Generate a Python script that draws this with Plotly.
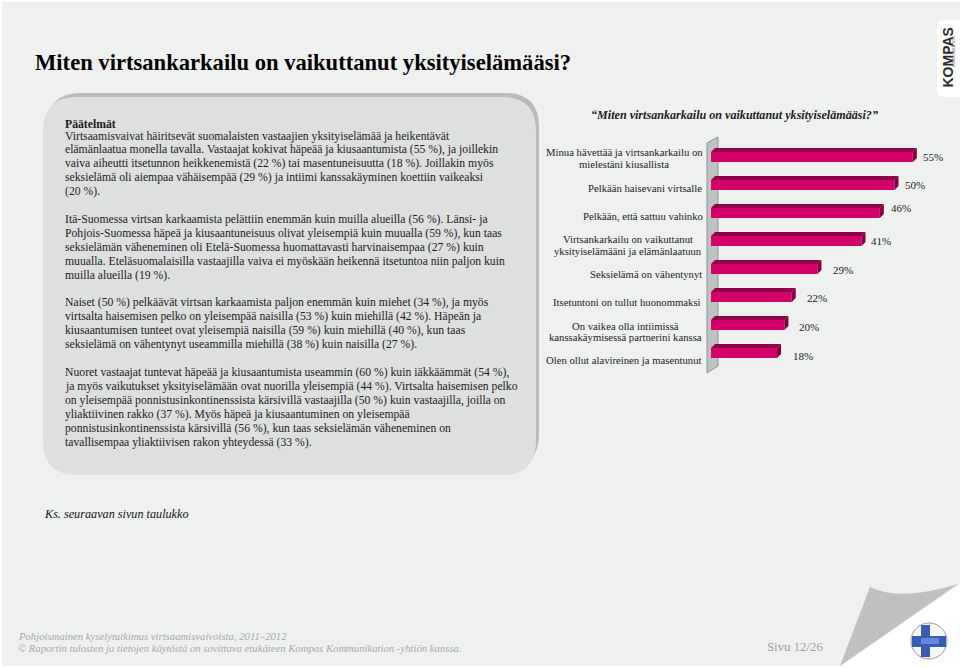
import plotly.graph_objects as go

W, H = 960, 668
SERIF = "Liberation Serif"

# ---- data ----
categories = [
    "Minua hävettää ja virtsankarkailu on<br>mielestäni kiusallista",
    "Pelkään haisevani virtsalle",
    "Pelkään, että sattuu vahinko",
    "Virtsankarkailu on vaikuttanut<br>yksityiselämääni ja elämänlaatuun",
    "Seksielämä on vähentynyt",
    "Itsetuntoni on tullut huonommaksi",
    "On vaikea olla intiimissä<br>kanssakäymisessä partnerini kanssa",
    "Olen ollut alavireinen ja masentunut",
]
values = [55, 50, 46, 41, 29, 22, 20, 18]

page_title = "Miten virtsankarkailu on vaikuttanut yksityiselämääsi?"
chart_title = "“Miten virtsankarkailu on vaikuttanut yksityiselämääsi?”"
heading = "Päätelmät"
para1 = [
    "Virtsaamisvaivat häiritsevät suomalaisten vastaajien yksityiselämää ja heikentävät",
    "elämänlaatua monella tavalla. Vastaajat kokivat häpeää ja kiusaantumista (55 %), ja joillekin",
    "vaiva aiheutti itsetunnon heikkenemistä (22 %) tai masentuneisuutta (18 %). Joillakin myös",
    "seksielämä oli aiempaa vähäisempää (29 %) ja intiimi kanssakäyminen koettiin vaikeaksi",
    "(20 %).",
]
para2 = [
    "Itä-Suomessa virtsan karkaamista pelättiin enemmän kuin muilla alueilla (56 %). Länsi- ja",
    "Pohjois-Suomessa häpeä ja kiusaantuneisuus olivat yleisempiä kuin muualla (59 %), kun taas",
    "seksielämän väheneminen oli Etelä-Suomessa huomattavasti harvinaisempaa (27 %) kuin",
    "muualla. Eteläsuomalaisilla vastaajilla vaiva ei myöskään heikennä itsetuntoa niin paljon kuin",
    "muilla alueilla (19 %).",
]
para3 = [
    "Naiset (50 %) pelkäävät virtsan karkaamista paljon enemmän kuin miehet (34 %), ja myös",
    "virtsalta haisemisen pelko on yleisempää naisilla (53 %) kuin miehillä (42 %). Häpeän ja",
    "kiusaantumisen tunteet ovat yleisempiä naisilla (59 %) kuin miehillä (40 %), kun taas",
    "seksielämä on vähentynyt useammilla miehillä (38 %) kuin naisilla (27 %).",
]
para4 = [
    "Nuoret vastaajat tuntevat häpeää ja kiusaantumista useammin (60 %) kuin iäkkäämmät (54 %),",
    "ja myös vaikutukset yksityiselämään ovat nuorilla yleisempiä (44 %). Virtsalta haisemisen pelko",
    "on yleisempää ponnistusinkontinenssista kärsivillä vastaajilla (50 %) kuin vastaajilla, joilla on",
    "yliaktiivinen rakko (37 %). Myös häpeä ja kiusaantuminen on yleisempää",
    "ponnistusinkontinenssista kärsivillä (56 %), kun taas seksielämän väheneminen on",
    "tavallisempaa yliaktiivisen rakon yhteydessä (33 %).",
]
note = "Ks. seuraavan sivun taulukko"
footer1 = "Pohjoismainen kyselytutkimus virtsaamisvaivoista, 2011–2012"
footer2 = "© Raportin tulosten ja tietojen käytöstä on sovittava etukäteen Kompas Kommunikation -yhtiön kanssa."
page_no = "Sivu 12/26"

# ---- layout constants (pixels on the page) ----
PLOT_L, PX_PER_PCT, X_MAX = 711, 3.67, 60
PLOT_T, STEP = 143, 28
DEPTH = 4
BAR_PX = 10
label_y_px = [158, 188, 216, 245, 274, 302, 331.5, 360]
label_centre = [624, 645, 642.5, 628, 646, 626.5, 625.5, 624]
value_dx = [16, 16, 17, 16, 22, 21, 21, 22]
value_dy = [0, 0, -5, 0, 1, 1, 2, 3]

PINK, DARK, BG = "#d4006a", "#93004a", "#eff1f1"


def px(x):
    return x / W


def py(y):
    return 1 - y / H


def poly(points):
    return "M" + " L".join(f"{px(x):.5f},{py(y):.5f}" for x, y in points) + " Z"


def rrect(x0, y0, x1, y1, r):
    p = lambda x, y: f"{px(x):.5f},{py(y):.5f}"
    return (f"M{p(x0 + r, y0)} L{p(x1 - r, y0)} Q{p(x1, y0)} {p(x1, y0 + r)} "
            f"L{p(x1, y1 - r)} Q{p(x1, y1)} {p(x1 - r, y1)} L{p(x0 + r, y1)} "
            f"Q{p(x0, y1)} {p(x0, y1 - r)} L{p(x0, y0 + r)} Q{p(x0, y0)} {p(x0 + r, y0)} Z")


fig = go.Figure()

# bars drawn through the axes
idx = list(range(len(values)))
w = BAR_PX / STEP
dx = DEPTH / PX_PER_PCT
dy = DEPTH / STEP
fig.add_trace(go.Bar(y=idx, x=values, orientation="h", width=w,
                     marker=dict(color=PINK, line=dict(width=0)), hoverinfo="skip"))

tx, ty, sx, sy = [], [], [], []
for i, v in zip(idx, values):
    t = i - w / 2
    b = i + w / 2
    tx += [0, dx, v + dx, v, 0, None]
    ty += [t, t - dy, t - dy, t, t, None]
    sx += [v, v + dx, v + dx, v, v, None]
    sy += [t, t - dy, b - dy, b, t, None]
for xs, ys, col in ((tx, ty, DARK), (sx, sy, "#7d003f")):
    fig.add_trace(go.Scatter(x=xs, y=ys, mode="lines", fill="toself", fillcolor=col,
                             line=dict(width=0, color=col), hoverinfo="skip"))

shapes = []


def add_path(path, fill, line=None, lw=0):
    shapes.append(dict(type="path", xref="paper", yref="paper", path=path, fillcolor=fill,
                       line=dict(color=line or fill, width=lw), layer="below"))


# page sheet and curl
add_path(poly([(2, 2), (960, 2), (960, 584), (840, 666), (2, 666)]), BG)
shapes.append(dict(type="path", xref="paper", yref="paper", fillcolor="#bfc1c1", line=dict(width=0),
                   layer="below",
                   path=f"M{px(870)},{py(587)} Q{px(900)},{py(602)} {px(958)},{py(584)} "
                        f"L{px(840)},{py(666)} Z"))

# text panel with its shadow
add_path(rrect(47, 93, 539, 468, 34), "#b9bbbb")
add_path(rrect(43, 97, 536, 475, 34), "#dedfdf")

# axis wall of the chart
add_path(poly([(707, 143), (718, 137), (718, 366), (707, 373)]), "#bfc2c2", "#8f9292", 1)

# logo plate
add_path(rrect(937, 20, 975, 97, 7), "#ffffff")

# flag
fx, fy, fr = 929, 641, 18
shapes.append(dict(type="circle", xref="paper", yref="paper", layer="below",
                   x0=px(fx - fr), x1=px(fx + fr), y0=py(fy + fr), y1=py(fy - fr),
                   fillcolor="#f4f6f8", line=dict(color="#9a9a9a", width=1)))
add_path(poly([(fx - 17, fy - 5), (fx + 17, fy - 5), (fx + 17, fy + 6), (fx - 17, fy + 6)]), "#3b5cb4")
add_path(poly([(fx - 8, fy - 16), (fx + 1, fy - 16), (fx + 1, fy + 16), (fx - 8, fy + 16)]), "#3b5cb4")
add_path(poly([(fx - 8, fy - 3), (fx + 10, fy - 3), (fx + 10, fy + 3), (fx - 8, fy + 3)]), "#6587e0")


def text(s, x, y, size, color="#1c1c1c", anchor="left", **kw):
    fig.add_annotation(xref="paper", yref="paper", x=px(x), y=py(y), text=s, showarrow=False,
                       xanchor=anchor, yanchor="middle", align=anchor,
                       font=dict(family=kw.pop("family", SERIF), size=size, color=color),
                       borderpad=0, **kw)


BODY = 11.7
text(f"<b>{page_title}</b>", 34, 63, 22.6, "#000000")
text(f"<b>{heading}</b>", 64, 124, BODY)
for lines, y0 in ((para1, 136), (para2, 219.3), (para3, 302.7), (para4, 372.3)):
    for n, line in enumerate(lines):
        text(line, 64, y0 + n * 13.95, BODY)

text(f"<b><i>{chart_title}</i></b>", 590, 115, 12.1)

# category labels: each line centred on the block's own centre
LABEL = 10.7
for cat, y, xc in zip(categories, label_y_px, label_centre):
    parts = cat.split("<br>")
    for n, part in enumerate(parts):
        text(part, xc, y + (n - (len(parts) - 1) / 2) * 11.5, LABEL, anchor="center")

for i, v, ddx, ddy in zip(idx, values, value_dx, value_dy):
    fig.add_annotation(x=v, y=i, xref="x", yref="y", text=f"{v}%", showarrow=False,
                       xanchor="center", yanchor="middle", xshift=DEPTH + ddx, yshift=-ddy,
                       font=dict(family=SERIF, size=11, color="#222222"))

text(f"<i>{note}</i>", 43, 514, 12.2, "#111111")
text(f"<i>{footer1}</i>", 17, 636, 10.7, "#a6a9a9")
text(f"<i>{footer2}</i>", 17, 648, 10.7, "#a6a9a9")
text(page_no, 766, 647, 12.8, "#9c9e9e")

# logo text
text("<b>KOMPAS</b>", 947.5, 58, 14, "#2b2b2b", anchor="center", family="Liberation Sans", textangle=-90)
text("KOMMUNIKATION", 954, 52, 3.6, "#555555", anchor="center", family="Liberation Sans", textangle=-90)

fig.update_layout(
    width=W, height=H, margin=dict(l=0, r=0, t=0, b=0), autosize=False,
    paper_bgcolor="#ffffff", plot_bgcolor="rgba(0,0,0,0)", showlegend=False,
    shapes=shapes, barmode="overlay",
    xaxis=dict(domain=[px(PLOT_L), px(PLOT_L + X_MAX * PX_PER_PCT)], range=[0, X_MAX], visible=False, fixedrange=True),
    yaxis=dict(domain=[py(PLOT_T + STEP * len(values)), py(PLOT_T)],
               range=[len(values) - 0.5, -0.5], visible=False, fixedrange=True),
)
fig.write_html("out.html", config={"displayModeBar": False},
               post_script="document.body.style.margin='0';document.body.style.overflow='hidden';")
